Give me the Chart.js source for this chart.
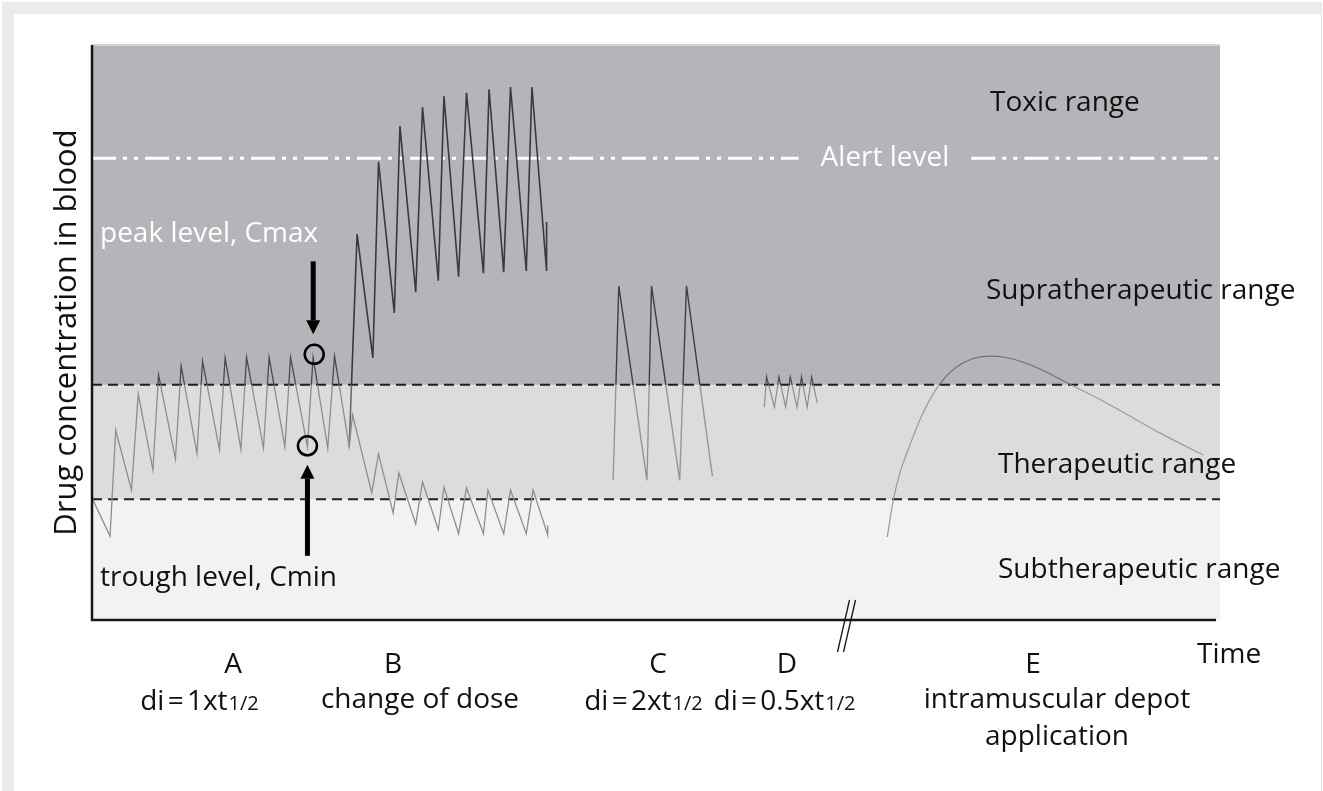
<!DOCTYPE html>
<html>
<head>
<meta charset="utf-8">
<script src="https://cdn.jsdelivr.net/npm/chart.js@4.4.0/dist/chart.umd.min.js"></script>
<style>
html, body { margin: 0; padding: 0; background: #fff; overflow: hidden; }
#frame { position: absolute; left: 2px; top: 2px; width: 1307px; height: 800px;
  border-top: 12px solid #ebebeb; border-left: 12px solid #ebebeb; border-right: 1px solid #e4e4e4; }
#chart { position: absolute; left: 0; top: 0; }
</style>
</head>
<body>
<div id="frame"></div>
<canvas id="chart" width="1323" height="791"></canvas>
<script>
// concentration levels (same units as the y axis, 0..100)
const alertLevel = 80.3;
const supraLevel = 40.9;
const therapeuticLevel = 21.0;

// A: di = 1 x t1/2, continuing into the lowered dose after the change
const timeA = [0, 1.6, 2.1, 3.5, 4.1, 5.4, 5.9, 7.4, 7.9, 9.3, 9.8, 11.3, 11.8, 13.2, 13.7, 15.2, 15.7,
  17.1, 17.6, 19.1, 19.6, 20.9, 21.5, 22.8, 23.1, 24.8, 25.4, 26.7, 27.2, 28.7, 29.3, 30.7, 31.2,
  32.5, 33.2, 34.7, 35.1, 36.5, 37.1, 38.5, 39.1, 40.4, 40.4];
const concA = [21.2, 14.6, 33.0, 22.6, 39.3, 26.1, 42.6, 28.0, 44.2, 29.0, 45.0, 29.6, 45.6, 29.7, 45.7, 29.9, 45.7,
  30.1, 45.7, 30.1, 45.7, 29.9, 45.9, 30.1, 35.7, 22.1, 28.9, 18.6, 25.6, 16.7, 24.0, 15.7, 23.1,
  15.0, 23.0, 15.0, 22.6, 15.0, 22.6, 15.0, 22.6, 14.8, 16.5];

// B: change of dose, raised branch
const timeB = [22.8, 23.5, 24.9, 25.4, 26.8, 27.3, 28.7, 29.3, 30.7, 31.2, 32.5, 33.2, 34.7, 35.2,
  36.5, 37.1, 38.5, 39.0, 40.3, 40.3];
const concB = [30.1, 67.1, 45.6, 79.7, 53.4, 85.9, 57.0, 89.2, 59.0, 91.1, 59.7, 91.7, 60.3, 92.3,
  60.5, 92.7, 60.7, 92.7, 60.7, 69.2];

// C: di = 2 x t1/2
const timeC = [46.2, 46.7, 49.2, 49.6, 52.1, 52.7, 55.0];
const concC = [24.3, 58.1, 24.3, 58.1, 24.3, 58.1, 25.0];

// D: di = 0.5 x t1/2
const timeD = [59.6, 59.8, 60.5, 60.9, 61.5, 61.9, 62.5, 62.9, 63.4, 63.8, 64.3];
const concD = [37.0, 42.3, 37.0, 42.3, 37.0, 42.3, 37.0, 42.3, 37.0, 42.3, 37.7];

// E: intramuscular depot
const timeE = [70.5, 71.0, 71.6, 72.5, 73.6, 75.1, 76.5, 78.0, 79.6, 80.9, 82.3, 84.0, 85.8, 87.0,
  89.4, 91.8, 94.7, 98.5];
const concE = [14.4, 20.5, 25.4, 30.4, 35.7, 40.9, 43.8, 45.4, 45.9, 45.7, 45.0, 43.7, 41.9, 40.7,
  38.3, 35.7, 32.5, 28.7];

const rangeLabels = ['Toxic range', 'Supratherapeutic range', 'Therapeutic range', 'Subtherapeutic range'];
const groupLetters = ['A', 'B', 'C', 'D', 'E'];

const FONT = '"Open Sans", "Noto Sans", sans-serif';
const SIZE = 28;

function pts(xs, ys) {
  return xs.map((x, i) => ({ x: x, y: ys[i] }));
}

// darker above the supratherapeutic line, lighter below it
function lineColor(dark, light) {
  return function (context) {
    const chart = context.chart;
    const area = chart.chartArea;
    if (!area) return light;
    const yPix = chart.scales.y.getPixelForValue(supraLevel);
    const f = Math.min(1, Math.max(0, (yPix - area.top) / (area.bottom - area.top)));
    const g = chart.ctx.createLinearGradient(0, area.top, 0, area.bottom);
    g.addColorStop(0, dark);
    g.addColorStop(f, dark);
    g.addColorStop(f, light);
    g.addColorStop(1, light);
    return g;
  };
}

function series(xs, ys, dark, light, width, extra) {
  return Object.assign({
    data: pts(xs, ys),
    borderColor: lineColor(dark, light),
    borderWidth: width,
    pointRadius: 0,
    tension: 0,
    fill: false
  }, extra || {});
}

function arrow(ctx, x, yTail, yTip) {
  const dir = yTip > yTail ? 1 : -1;
  const head = 14;
  ctx.save();
  ctx.strokeStyle = '#000';
  ctx.fillStyle = '#000';
  ctx.lineWidth = 5;
  ctx.beginPath();
  ctx.moveTo(x, yTail);
  ctx.lineTo(x, yTip - dir * head);
  ctx.stroke();
  ctx.beginPath();
  ctx.moveTo(x - 7, yTip - dir * head);
  ctx.lineTo(x + 7, yTip - dir * head);
  ctx.lineTo(x, yTip);
  ctx.closePath();
  ctx.fill();
  ctx.restore();
}

// "di = ...xt" followed by a smaller "1/2", tight spaces like the original
function textWithSub(ctx, main, sub, cx, cy) {
  ctx.save();
  ctx.wordSpacing = '-4px';
  ctx.font = SIZE + 'px ' + FONT;
  const w1 = ctx.measureText(main).width;
  ctx.font = '20px ' + FONT;
  const w2 = ctx.measureText(sub).width;
  const x0 = cx - (w1 + w2) / 2;
  ctx.textAlign = 'left';
  ctx.textBaseline = 'alphabetic';
  ctx.font = SIZE + 'px ' + FONT;
  ctx.fillText(main, x0, cy + 10);
  ctx.font = '20px ' + FONT;
  ctx.fillText(sub, x0 + w1 + 1, cy + 10);
  ctx.restore();
}

const backdrop = {
  id: 'backdrop',
  beforeDatasetsDraw(chart) {
    const { ctx, chartArea: a, scales: { x, y } } = chart;
    const ySupra = y.getPixelForValue(supraLevel);
    const yTher = y.getPixelForValue(therapeuticLevel);
    ctx.save();
    ctx.fillStyle = '#b4b5b9';
    ctx.fillRect(a.left, a.top, a.right - a.left, ySupra - a.top);
    ctx.fillStyle = '#dcdcde';
    ctx.fillRect(a.left, ySupra, a.right - a.left, yTher - ySupra);
    ctx.fillStyle = '#f2f2f2';
    ctx.fillRect(a.left, yTher, a.right - a.left, a.bottom - yTher);
    ctx.fillStyle = '#d4d5d7';
    ctx.fillRect(a.left, a.top - 1, a.right - a.left, 2);

    // dashed range limits
    ctx.strokeStyle = '#1e1e1e';
    ctx.lineWidth = 2;
    ctx.setLineDash([10, 6]);
    [ySupra, yTher].forEach(yy => {
      ctx.beginPath();
      ctx.moveTo(a.left, yy);
      ctx.lineTo(a.right, yy);
      ctx.stroke();
    });

    // alert level, dash-dot-dot with a gap for its label
    const yAlert = y.getPixelForValue(alertLevel);
    const labelX = x.getPixelForValue(70.3);
    ctx.font = SIZE + 'px ' + FONT;
    const half = ctx.measureText('Alert level').width / 2 + 22;
    ctx.strokeStyle = '#ffffff';
    ctx.lineWidth = 3;
    ctx.setLineDash([24, 7, 4, 7, 4, 7]);
    ctx.beginPath();
    ctx.moveTo(a.left, yAlert);
    ctx.lineTo(labelX - half, yAlert);
    ctx.stroke();
    ctx.beginPath();
    ctx.moveTo(labelX + half, yAlert);
    ctx.lineTo(a.right, yAlert);
    ctx.stroke();
    ctx.setLineDash([]);
    ctx.fillStyle = '#ffffff';
    ctx.textAlign = 'center';
    ctx.textBaseline = 'middle';
    ctx.fillText('Alert level', labelX, yAlert);
    ctx.restore();
  },
  afterDatasetsDraw(chart) {
    const { ctx, chartArea: a, scales: { x, y } } = chart;
    ctx.save();

    // axes
    ctx.strokeStyle = '#151515';
    ctx.lineWidth = 2.5;
    ctx.beginPath();
    ctx.moveTo(a.left, a.top);
    ctx.lineTo(a.left, a.bottom);
    ctx.lineTo(a.right - 4, a.bottom);
    ctx.stroke();

    // axis break
    ctx.lineWidth = 1.3;
    const bx = x.getPixelForValue(66.8);
    [0, 6].forEach(off => {
      ctx.beginPath();
      ctx.moveTo(bx - 8 + off, a.bottom + 32);
      ctx.lineTo(bx + 4 + off, a.bottom - 20);
      ctx.stroke();
    });

    // Cmax / Cmin markers
    const pkX = x.getPixelForValue(19.7), pkY = y.getPixelForValue(46.2);
    const trX = x.getPixelForValue(19.1), trY = y.getPixelForValue(30.3);
    ctx.lineWidth = 2.5;
    ctx.strokeStyle = '#000';
    [[pkX, pkY], [trX, trY]].forEach(p => {
      ctx.beginPath();
      ctx.arc(p[0], p[1], 9.5, 0, Math.PI * 2);
      ctx.stroke();
    });
    arrow(ctx, pkX - 1, pkY - 93, pkY - 20);
    arrow(ctx, trX, trY + 110, trY + 19);

    ctx.font = SIZE + 'px ' + FONT;
    ctx.textAlign = 'left';
    ctx.textBaseline = 'middle';
    ctx.fillStyle = '#ffffff';
    ctx.fillText('peak level, Cmax', a.left + 8, 234);
    ctx.fillStyle = '#111';
    ctx.fillText('trough level, Cmin', a.left + 8, 578);

    // range names
    const rangeY = [103, 291, 465, 570];
    const rangeX = [990, 986, 998, 998];
    rangeLabels.forEach((t, i) => ctx.fillText(t, rangeX[i], rangeY[i]));

    // y axis title
    ctx.save();
    ctx.translate(67, (a.top + a.bottom) / 2);
    ctx.rotate(-Math.PI / 2);
    ctx.textAlign = 'center';
    ctx.font = '31px ' + FONT;
    ctx.fillText('Drug concentration in blood', 0, 0);
    ctx.restore();

    // group letters and descriptions
    const letterX = [233, 393, 658, 787, 1033];
    ctx.textAlign = 'center';
    ctx.font = SIZE + 'px ' + FONT;
    groupLetters.forEach((t, i) => ctx.fillText(t, letterX[i], 665));
    textWithSub(ctx, 'di = 1xt', '1/2', 199, 700);
    ctx.textAlign = 'center';
    ctx.textBaseline = 'middle';
    ctx.font = SIZE + 'px ' + FONT;
    ctx.fillText('change of dose', 420, 700);
    textWithSub(ctx, 'di = 2xt', '1/2', 643, 700);
    textWithSub(ctx, 'di = 0.5xt', '1/2', 784, 700);
    ctx.textAlign = 'center';
    ctx.textBaseline = 'middle';
    ctx.font = SIZE + 'px ' + FONT;
    ctx.fillText('intramuscular depot', 1057, 700);
    ctx.fillText('application', 1057, 737);
    ctx.textAlign = 'left';
    ctx.fillText('Time', 1197, 655);
    ctx.restore();
  }
};

new Chart(document.getElementById('chart'), {
  type: 'line',
  data: {
    datasets: [
      series(timeA, concA, '#4a4a4c', '#8d8d8f', 1.3),
      series(timeB, concB, '#3a3a3c', '#6a6a6c', 1.6),
      series(timeC, concC, '#3f3f41', '#959597', 1.4),
      series(timeD, concD, '#4a4a4c', '#8d8d8f', 1.2),
      series(timeE, concE, '#707072', '#9a9a9c', 1.2, { cubicInterpolationMode: 'monotone' })
    ]
  },
  options: {
    responsive: false,
    animation: false,
    layout: { padding: { left: 92, top: 45, right: 103, bottom: 171 } },
    plugins: { legend: { display: false }, tooltip: { enabled: false } },
    scales: {
      x: { type: 'linear', min: 0, max: 100, display: false },
      y: { type: 'linear', min: 0, max: 100, display: false }
    }
  },
  plugins: [backdrop]
});
</script>
</body>
</html>
